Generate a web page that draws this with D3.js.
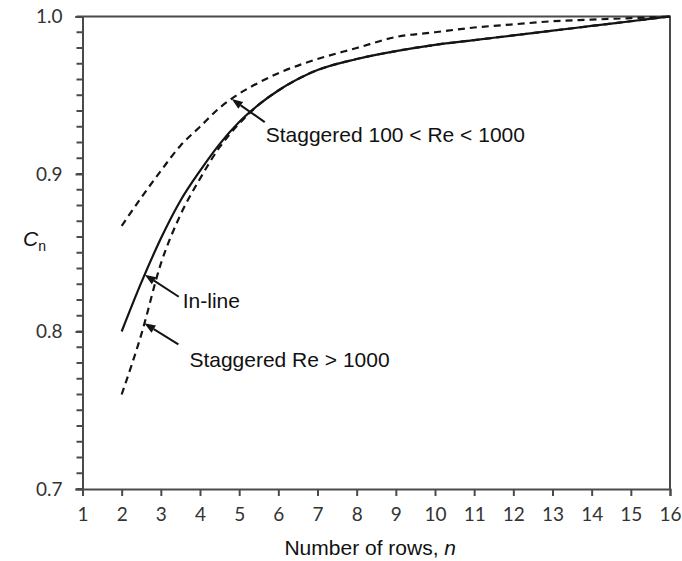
<!DOCTYPE html>
<html>
<head>
<meta charset="utf-8">
<script src="https://cdn.jsdelivr.net/npm/d3@7"></script>
<style>
  html, body { margin: 0; padding: 0; background: #fff; }
  svg { display: block; }
</style>
</head>
<body>
<svg id="chart" width="682" height="561"></svg>
<script>
// Number of tube rows
const rows = [2, 2.5, 3, 3.5, 4, 4.5, 5, 5.5, 6, 7, 8, 9, 10, 11, 12, 13, 14, 15, 16];

// Row correction factor C_n for each arrangement
const inLine        = [0.800, 0.831, 0.859, 0.883, 0.902, 0.919, 0.933, 0.944, 0.953, 0.966, 0.973, 0.978, 0.982, 0.985, 0.988, 0.991, 0.994, 0.997, 1.000];
const staggeredHigh = [0.760, 0.798, 0.843, 0.874, 0.897, 0.917, 0.932, 0.944, 0.953, 0.966, 0.973, 0.978, 0.982, 0.985, 0.988, 0.991, 0.994, 0.997, 1.000];
const staggeredMid  = [0.867, 0.885, 0.902, 0.918, 0.930, 0.942, 0.951, 0.958, 0.964, 0.973, 0.980, 0.987, 0.990, 0.993, 0.995, 0.997, 0.998, 0.999, 1.000];

// Axis ticks
const xTicks = [1, 2, 3, 4, 5, 6, 7, 8, 9, 10, 11, 12, 13, 14, 15, 16];
const yTicks = [0.7, 0.8, 0.9, 1.0];
const yMinorTicks = d3.range(70, 101).map(d => d / 100);

const series = [
  { key: "inLine",        values: inLine,        dash: null,  label: "In-line" },
  { key: "staggeredHigh", values: staggeredHigh, dash: "7,5", label: "Staggered Re > 1000" },
  { key: "staggeredMid",  values: staggeredMid,  dash: "7,5", label: "Staggered 100 < Re < 1000" }
];

const svg = d3.select("#chart");
const margin = { left: 82.5, right: 12, top: 16.5, bottom: 72 };
const W = 682, H = 561;

const x = d3.scaleLinear().domain([1, 16]).range([margin.left, W - margin.right]);
const y = d3.scaleLinear().domain([0.7, 1.0]).range([H - margin.bottom, margin.top]);

const axisColor = "#4a4a4a";
const tickFont = "Lato, 'Open Sans', sans-serif";
const textFont = "'Liberation Sans', Arial, sans-serif";

// Frame: top and right edges
svg.append("path")
  .attr("d", `M${x(1)},${y(1.0)}H${x(16)}V${y(0.7)}`)
  .attr("fill", "none")
  .attr("stroke", axisColor)
  .attr("stroke-width", 2);

// Y axis minor ticks every 0.01
svg.append("g")
  .selectAll("line")
  .data(yMinorTicks)
  .join("line")
  .attr("x1", x(1) - 6)
  .attr("x2", x(1))
  .attr("y1", d => y(d))
  .attr("y2", d => y(d))
  .attr("stroke", axisColor)
  .attr("stroke-width", 2);

// X axis
const gx = svg.append("g")
  .attr("transform", `translate(0,${y(0.7)})`)
  .call(d3.axisBottom(x).tickValues(xTicks).tickFormat(d3.format("d")).tickSize(7).tickPadding(12));
gx.select(".domain").attr("stroke", axisColor).attr("stroke-width", 2);
gx.selectAll(".tick line").attr("stroke", axisColor).attr("stroke-width", 2);
gx.selectAll(".tick text")
  .attr("font-family", tickFont).attr("font-size", 19).attr("fill", "#333");

// Y axis with labelled ticks
const gy = svg.append("g")
  .attr("transform", `translate(${x(1)},0)`)
  .call(d3.axisLeft(y).tickValues(yTicks).tickFormat(d3.format(".1f")).tickSize(7).tickPadding(13));
gy.select(".domain").attr("stroke", axisColor).attr("stroke-width", 2);
gy.selectAll(".tick line").attr("stroke", axisColor).attr("stroke-width", 2);
gy.selectAll(".tick text")
  .attr("font-family", tickFont).attr("font-size", 19).attr("fill", "#333");

// Axis titles
svg.append("text")
  .attr("x", (x(1) + x(16)) / 2 - 6)
  .attr("y", 555)
  .attr("text-anchor", "middle")
  .attr("font-family", textFont)
  .attr("font-size", 21)
  .attr("fill", "#111")
  .call(t => {
    t.append("tspan").text("Number of rows, ");
    t.append("tspan").attr("font-style", "italic").text("n");
  });

svg.append("text")
  .attr("x", 23)
  .attr("y", 246)
  .attr("font-family", textFont)
  .attr("font-size", 21)
  .attr("fill", "#111")
  .call(t => {
    t.append("tspan").attr("font-style", "italic").text("C");
    t.append("tspan").attr("font-size", 14).attr("dy", 5).text("n");
  });

// Curves
const line = d3.line()
  .x(d => x(d[0]))
  .y(d => y(d[1]))
  .curve(d3.curveMonotoneX);

const drawOrder = ["staggeredHigh", "staggeredMid", "inLine"];
drawOrder.forEach(k => {
  const s = series.find(d => d.key === k);
  svg.append("path")
    .datum(rows.map((r, i) => [r, s.values[i]]))
    .attr("d", line)
    .attr("fill", "none")
    .attr("stroke", "#141414")
    .attr("stroke-width", 2.2)
    .attr("stroke-dasharray", s.dash);
});

// Value of a series at a given row count
function valueAt(values, n) {
  const i = d3.bisectRight(rows, n) - 1;
  const j = Math.min(i + 1, rows.length - 1);
  const t = j === i ? 0 : (n - rows[i]) / (rows[j] - rows[i]);
  return values[i] + t * (values[j] - values[i]);
}

// Arrow annotations pointing at each curve
const notes = [
  { key: "inLine",        tipN: 2.59, tail: [34, 22], text: [4, 11] },
  { key: "staggeredHigh", tipN: 2.58, tail: [34, 21], text: [11, 23] },
  { key: "staggeredMid",  tipN: 4.81, tail: [33, 23], text: [1, 20] }
];

notes.forEach(nt => {
  const s = series.find(d => d.key === nt.key);
  const tx = x(nt.tipN), ty = y(valueAt(s.values, nt.tipN));
  const ex = tx + nt.tail[0], ey = ty + nt.tail[1];
  const ang = Math.atan2(ty - ey, tx - ex);
  const L = 11, hw = 4.2;
  const bx = tx - L * Math.cos(ang), by = ty - L * Math.sin(ang);
  svg.append("line")
    .attr("x1", ex).attr("y1", ey).attr("x2", bx).attr("y2", by)
    .attr("stroke", "#141414").attr("stroke-width", 2);
  svg.append("path")
    .attr("d", `M${tx},${ty}L${bx - hw * Math.sin(ang)},${by + hw * Math.cos(ang)}L${bx + hw * Math.sin(ang)},${by - hw * Math.cos(ang)}Z`)
    .attr("fill", "#141414");
  svg.append("text")
    .attr("x", ex + nt.text[0])
    .attr("y", ey + nt.text[1])
    .attr("font-family", textFont)
    .attr("font-size", 21)
    .attr("fill", "#111")
    .text(s.label);
});
</script>
</body>
</html>
